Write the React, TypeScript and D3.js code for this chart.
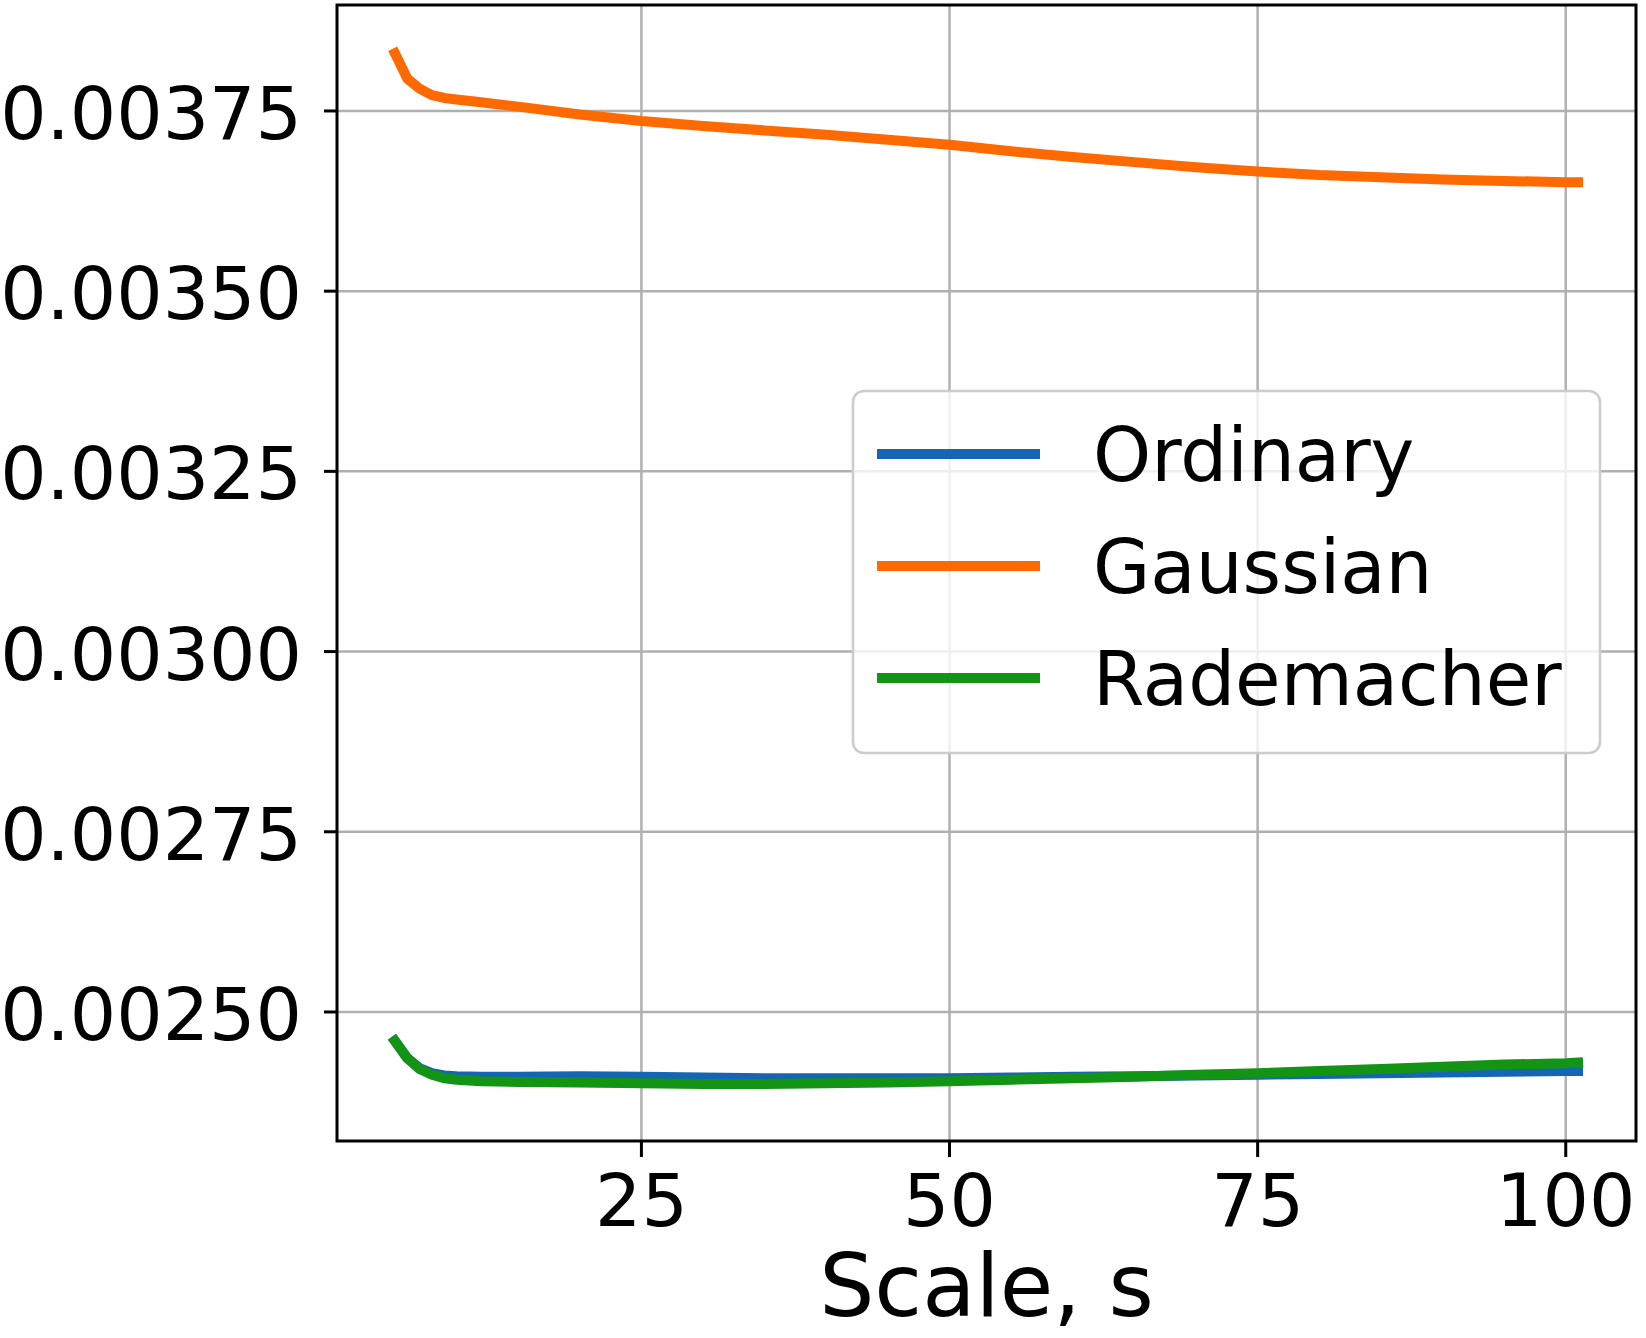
import React from "react";
import * as d3 from "d3";

const scales: number[] = [5, 6, 7, 8, 9, 10, 12, 15, 20, 25, 30, 35, 40, 45, 50, 55, 60, 65, 70, 75, 80, 85, 90, 95, 100, 101];

const ordinary: number[] = [
  0.00246, 0.002436, 0.002422, 0.002415, 0.002412, 0.002411, 0.00241, 0.00241, 0.002411, 0.00241,
  0.002409, 0.002408, 0.002408, 0.002408, 0.002408, 0.002409, 0.00241, 0.002411, 0.002412, 0.002413,
  0.002414, 0.002415, 0.002416, 0.002417, 0.002418, 0.002418,
];

const gaussian: number[] = [
  0.00383, 0.003795, 0.003781, 0.003772, 0.003768, 0.003766, 0.003762, 0.003756, 0.003745, 0.003736,
  0.003729, 0.003723, 0.003717, 0.00371, 0.003703, 0.003694, 0.003686, 0.003679, 0.003672, 0.003666,
  0.003661, 0.003658, 0.003655, 0.003653, 0.003651, 0.003651,
];

const rademacher: number[] = [
  0.00246, 0.002436, 0.002421, 0.002413, 0.002408, 0.002406, 0.002404, 0.002403, 0.002402, 0.002401,
  0.0024, 0.0024, 0.002401, 0.002402, 0.002404, 0.002406, 0.002408, 0.00241, 0.002413, 0.002415,
  0.002418, 0.002421, 0.002424, 0.002427, 0.002429, 0.00243,
];

const seriesNames: string[] = ["Ordinary", "Gaussian", "Rademacher"];
const seriesColors: string[] = ["#1565b5", "#ff6a00", "#149414"];
const xTicks: number[] = [25, 50, 75, 100];
const yTicks: number[] = [0.0025, 0.00275, 0.003, 0.00325, 0.0035, 0.00375];
const xLimits: [number, number] = [0.3, 105.7];
const yLimits: [number, number] = [0.002321, 0.003897];
const xLabel = "Scale, s";

const W = 1646;
const H = 1338;
const M = { left: 337, right: 1636, top: 5, bottom: 1141 };
const FONT = "'DejaVu Sans', sans-serif";

export default function App() {
  const x = d3.scaleLinear().domain(xLimits).range([M.left, M.right]);
  const y = d3.scaleLinear().domain(yLimits).range([M.bottom, M.top]);
  const fmt = d3.format(".5f");
  const allSeries = [ordinary, gaussian, rademacher];
  const line = d3
    .line<number>()
    .x((_, i) => x(scales[i]))
    .y((d) => y(d));

  const legend = { x: 853, y: 391, w: 747, h: 362, first: 454, step: 112 };

  return (
    <svg
      width={W}
      height={H}
      viewBox={`0 0 ${W} ${H}`}
      style={{ position: "absolute", left: 0, top: 0, background: "#fff" }}
      fontFamily={FONT}
    >
      <rect x={0} y={0} width={W} height={H} fill="#fff" />
      {xTicks.map((t) => (
        <line key={"gx" + t} x1={x(t)} x2={x(t)} y1={M.top} y2={M.bottom} stroke="#b0b0b0" strokeWidth={2.5} />
      ))}
      {yTicks.map((t) => (
        <line key={"gy" + t} x1={M.left} x2={M.right} y1={y(t)} y2={y(t)} stroke="#b0b0b0" strokeWidth={2.5} />
      ))}
      {allSeries.map((s, i) => (
        <path
          key={seriesNames[i]}
          d={line(s) || ""}
          fill="none"
          stroke={seriesColors[i]}
          strokeWidth={10}
          strokeLinejoin="round"
          strokeLinecap="square"
        />
      ))}
      <rect
        x={M.left}
        y={M.top}
        width={M.right - M.left}
        height={M.bottom - M.top}
        fill="none"
        stroke="#000"
        strokeWidth={3}
      />
      {xTicks.map((t) => (
        <g key={"xt" + t}>
          <line x1={x(t)} x2={x(t)} y1={M.bottom} y2={M.bottom + 16} stroke="#000" strokeWidth={3} />
          <text x={x(t)} y={1226} textAnchor="middle" fontSize={73} fill="#000">
            {t}
          </text>
        </g>
      ))}
      {yTicks.map((t) => (
        <g key={"yt" + t}>
          <line x1={M.left - 13} x2={M.left} y1={y(t)} y2={y(t)} stroke="#000" strokeWidth={3} />
          <text x={302} y={y(t) + 28} textAnchor="end" fontSize={73} fill="#000">
            {fmt(t)}
          </text>
        </g>
      ))}
      <text x={(M.left + M.right) / 2} y={1316} textAnchor="middle" fontSize={87} fill="#000">
        {xLabel}
      </text>
      <rect
        x={legend.x}
        y={legend.y}
        width={legend.w}
        height={legend.h}
        rx={11}
        ry={11}
        fill="#fff"
        fillOpacity={0.8}
        stroke="#cccccc"
        strokeWidth={2.5}
      />
      {seriesNames.map((n, i) => {
        const cy = legend.first + i * legend.step;
        return (
          <g key={"lg" + n}>
            <line x1={882} x2={1035} y1={cy} y2={cy} stroke={seriesColors[i]} strokeWidth={10} strokeLinecap="square" />
            <text x={1093} y={cy + 27} fontSize={74} fill="#000">
              {n}
            </text>
          </g>
        );
      })}
    </svg>
  );
}
